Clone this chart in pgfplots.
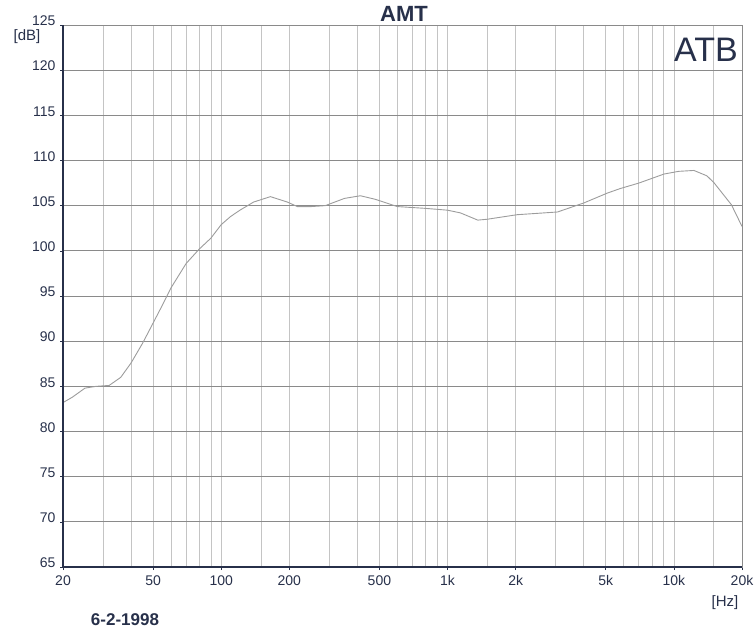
\documentclass[border=0pt]{standalone}
\usepackage{fontspec}
\setmainfont{Liberation Sans}
\usepackage{pgfplots}
\pgfplotsset{compat=1.18}
\definecolor{navy}{HTML}{27304A}
\definecolor{hgrid}{HTML}{8A8A8A}
\definecolor{vgrid}{HTML}{C4C4C4}
\definecolor{curve}{HTML}{9C9C9C}
\begin{document}
\begin{tikzpicture}[x=1pt,y=1pt]
\path[use as bounding box] (0,0) rectangle (756,630);
\begin{axis}[
  at={(63pt,63pt)}, anchor=south west,
  scale only axis, width=679pt, height=542pt,
  xmode=log, xmin=20, xmax=20000, ymin=65, ymax=125,
  xtick={20,50,100,200,500,1000,2000,5000,10000,20000},
  xticklabels={20,50,100,200,500,1k,2k,5k,10k,20k},
  minor xtick={30,40,60,70,80,90,150,300,400,600,700,800,900,1500,3000,4000,6000,7000,8000,9000,15000},
  ytick={65,70,...,125},
  xtick pos=bottom, ytick pos=left,
  tick align=outside, major tick length=3pt, minor tick length=0pt,
  tick style={navy, line width=0.6pt},
  grid=both,
  major x grid style={vgrid, line width=0.7pt},
  minor x grid style={vgrid, line width=0.7pt},
  major y grid style={hgrid, line width=0.8pt},
  axis line style={hgrid, line width=0.7pt},
  ticklabel style={font=\fontsize{14}{16}\selectfont, text=navy},
  yticklabel style={yshift=4pt, xshift=-1pt},
  xticklabel style={yshift=-2pt},
  /pgf/number format/assume math mode=true,
  clip=false,
]
\addplot[curve, line width=0.9pt] coordinates {
(20,83.2) (22,83.8) (25,84.8) (28,85.0) (32,85.1) (36,86.0) (40,87.6) (45,89.8)
(50,92.0) (55,94.0) (60,95.9) (70,98.6) (80,100.2) (90,101.4) (100,102.9) (110,103.8)
(121,104.5) (139,105.4) (165,106.0) (196,105.4) (217,104.9) (250,104.9) (288,105.0)
(350,105.8) (412,106.1) (480,105.7) (600,104.9) (800,104.7) (1000,104.5) (1140,104.2)
(1360,103.4) (1500,103.5) (2030,104.0) (3060,104.3) (4000,105.3) (5090,106.4)
(5800,106.9) (7000,107.5) (9040,108.5) (10500,108.8) (12260,108.9) (14000,108.3)
(15080,107.5) (17960,105.1) (20000,102.7)
};
\draw[navy, line width=1.6pt] (rel axis cs:0,1) -- (rel axis cs:0,0) -- (rel axis cs:1,0);
\end{axis}
\node[fill=white, inner sep=1pt, text=navy, font=\fontsize{22}{24}\bfseries\selectfont] at (404,616) {AMT};
\node[text=navy, font=\fontsize{34}{36}\selectfont] at (706,580) {ATB};
\node[text=navy, font=\fontsize{15}{17}\selectfont] at (27,593) {[dB]};
\node[text=navy, font=\fontsize{15}{17}\selectfont] at (725,27) {[Hz]};
\node[text=navy, font=\fontsize{17}{19}\bfseries\selectfont] at (125,10) {6-2-1998};
\end{tikzpicture}
\end{document}
